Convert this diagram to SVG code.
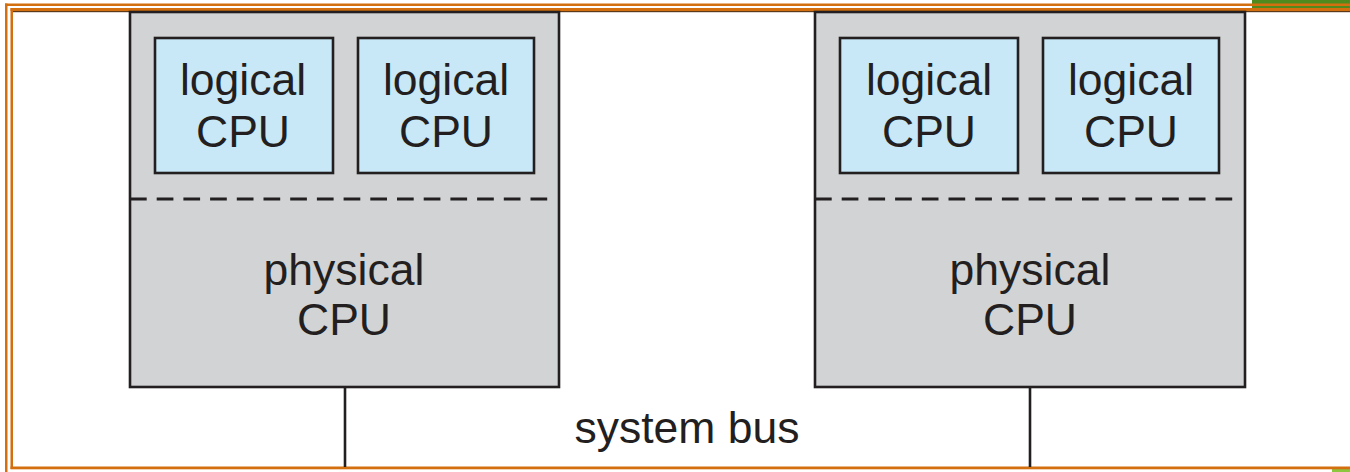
<svg xmlns="http://www.w3.org/2000/svg" width="1350" height="472" viewBox="0 0 1350 472">
<style>
.phys{fill:#d1d3d4;stroke:#231f20;stroke-width:2.6}
.log{fill:#c8e8f8;stroke:#231f20;stroke-width:2.6}
.dash{stroke:#231f20;stroke-width:3;stroke-dasharray:16.7 10;fill:none}
.bus{stroke:#231f20;stroke-width:2.6;fill:none}
.t{font-family:"Liberation Sans",Arial,sans-serif;font-size:44.5px;fill:#231f20;text-anchor:middle}
.or{fill:#d36f0e}
</style>
<rect width="1350" height="472" fill="#ffffff"/>
<g id="frame">
<rect x="1252" y="0" width="98" height="9" fill="#4f8a1f"/>
<rect x="1332" y="469" width="18" height="3" fill="#8dc63f"/>
<rect class="or" x="5" y="3.5" width="1345" height="2.5"/>
<rect class="or" x="5" y="3.5" width="2.5" height="468.5"/>
<rect class="or" x="10.5" y="8" width="1339.5" height="3"/>
<rect class="or" x="10.5" y="8" width="2.5" height="461"/>
<rect class="or" x="10.5" y="466.5" width="1339.5" height="2.8"/>
<rect x="13" y="11" width="1337" height="1.2" fill="#5a3a1a"/>
</g>
<g id="connectors">
<line class="bus" x1="345" y1="387" x2="345" y2="467"/>
<line class="bus" x1="1030" y1="387" x2="1030" y2="467"/>
</g>
<g id="physical-cpu-1">
<rect class="phys" x="130" y="12" width="429" height="375"/>
<line class="dash" x1="130" y1="199" x2="552" y2="199"/>
<text class="t" x="344" y="285">physical</text>
<text class="t" x="344" y="335">CPU</text>
</g>
<g id="logical-cpu-1a">
<rect class="log" x="155" y="38" width="178" height="135"/>
<text class="t" x="243" y="95">logical</text>
<text class="t" x="243" y="147">CPU</text>
</g>
<g id="logical-cpu-1b">
<rect class="log" x="358" y="38" width="176" height="135"/>
<text class="t" x="446" y="95">logical</text>
<text class="t" x="446" y="147">CPU</text>
</g>
<g id="physical-cpu-2">
<rect class="phys" x="815" y="12" width="430" height="375"/>
<line class="dash" x1="815" y1="199" x2="1237" y2="199"/>
<text class="t" x="1030" y="285">physical</text>
<text class="t" x="1030" y="335">CPU</text>
</g>
<g id="logical-cpu-2a">
<rect class="log" x="840" y="38" width="178" height="135"/>
<text class="t" x="929" y="95">logical</text>
<text class="t" x="929" y="147">CPU</text>
</g>
<g id="logical-cpu-2b">
<rect class="log" x="1043" y="38" width="176" height="135"/>
<text class="t" x="1131" y="95">logical</text>
<text class="t" x="1131" y="147">CPU</text>
</g>
<g id="bus-label">
<text class="t" x="687" y="443">system bus</text>
</g>
</svg>
